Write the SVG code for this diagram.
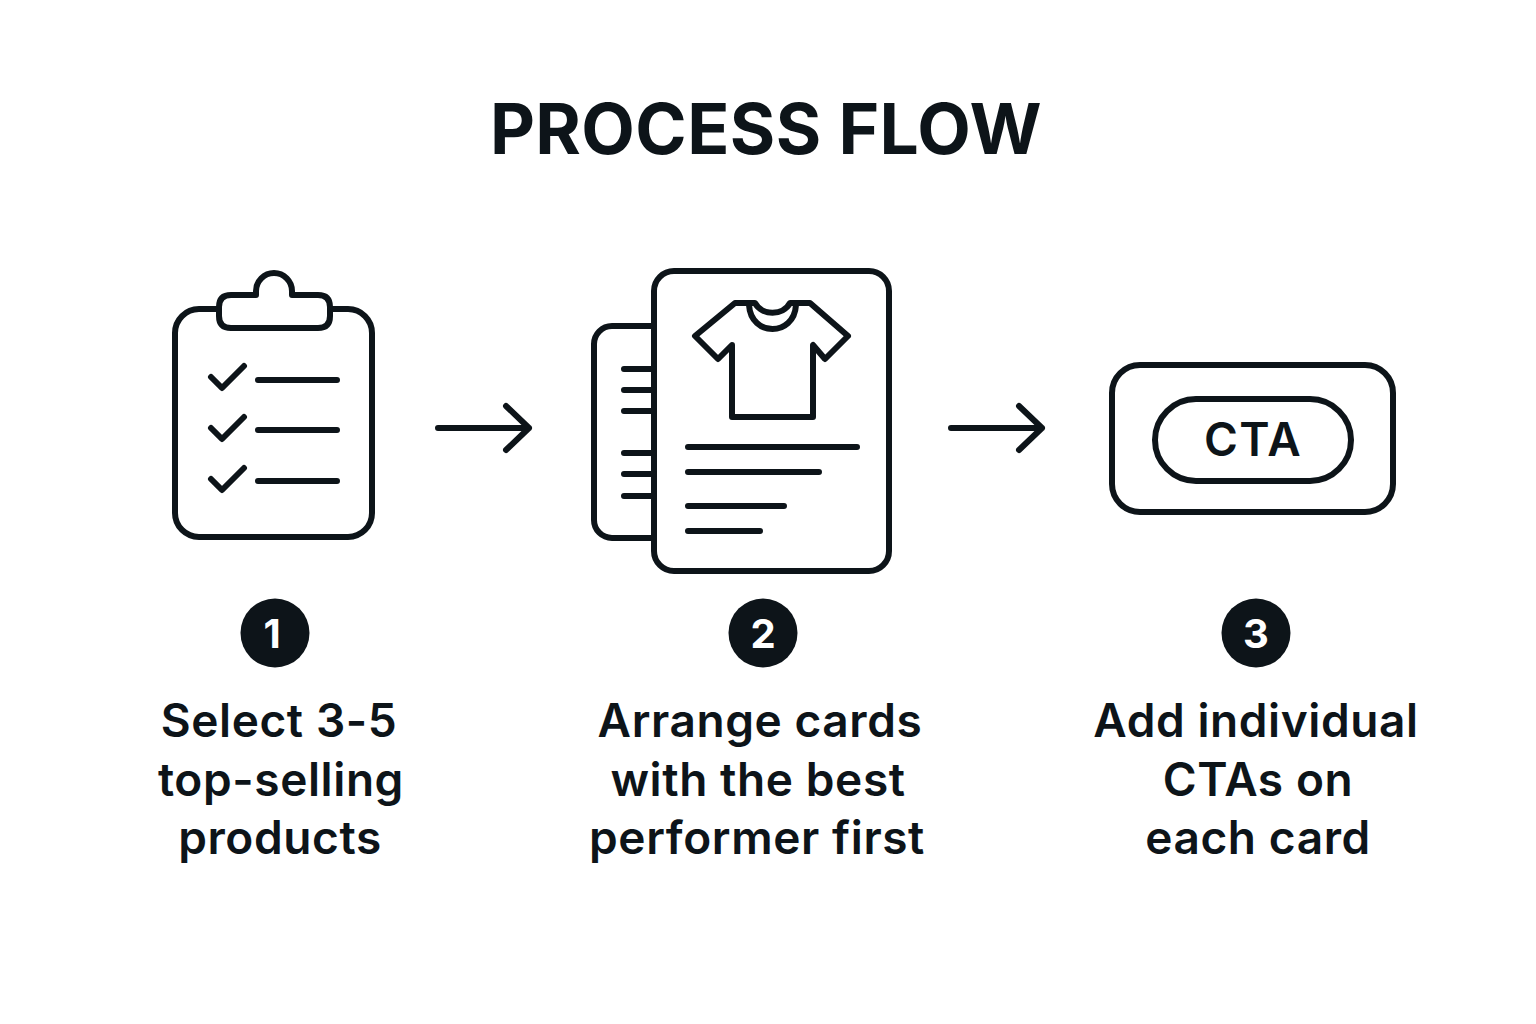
<svg xmlns="http://www.w3.org/2000/svg" width="1536" height="1024" viewBox="0 0 1536 1024">
<style>
.s{fill:none;stroke:#0d1419;stroke-width:6;stroke-linecap:round;stroke-linejoin:round}
.w{fill:#fff;stroke:#0d1419;stroke-width:6;stroke-linejoin:round}
text{font-family:Inter,"Liberation Sans",sans-serif;fill:#0d1419;text-anchor:middle}
.l{font-size:46px;font-weight:600;letter-spacing:.6px}
.n{font-size:40px;font-weight:700;fill:#fff}
</style>
<rect width="1536" height="1024" fill="#fff"/>
<text x="766" y="154" style="font-size:69.5px;font-weight:700;letter-spacing:.4px">PROCESS FLOW</text>
<g id="connectors" class="s"><path d="M438 428H529M506 406L529 428L506 450"/><path d="M951 428H1042M1019 406L1042 428L1019 450"/></g>
<g id="node1"><rect class="s" x="175" y="309" width="197" height="228" rx="24"/>
<path class="w" d="M219 307Q219 295 231 295H256V291A18 18 0 0 1 292 291V295H318Q330 295 330 307V316Q330 328 318 328H231Q219 328 219 316Z"/>
<path class="s" d="M211 377L222 388L244 366M258 380H337M211 428L222 439L244 417M258 430H337M211 479L222 490L244 468M258 481H337"/>
<circle cx="275" cy="633" r="34.500" fill="#0d1419"/><text class="n" x="272" y="648">1</text>
<text class="l" x="279" y="737">Select 3-5</text><text class="l" x="281" y="796">top-selling</text><text class="l" x="280" y="854">products</text></g>
<g id="node2"><rect class="s" x="594" y="326" width="100" height="212" rx="18"/><rect class="w" x="654" y="271" width="235" height="300" rx="20"/>
<path class="s" d="M624 369H654M624 390H654M624 411H654M624 453H654M624 474H654M624 496H654"/>
<path class="s" d="M735 303H755C762 316 783 316 790 303H810L848 336L825 359L813 345V417H732V345L718 359L695 336ZM749 305C751 337 794 337 796 305"/>
<path class="s" d="M688 447H857M688 472H819M688 506H784M688 531H760"/>
<circle cx="763" cy="633" r="34.500" fill="#0d1419"/><text class="n" x="763" y="648">2</text>
<text class="l" x="760" y="737">Arrange cards</text><text class="l" x="758" y="796">with the best</text><text class="l" x="757" y="854">performer first</text></g>
<g id="node3"><rect class="s" x="1112" y="365" width="281" height="147" rx="28"/><rect class="s" x="1155" y="399" width="196" height="82" rx="41"/>
<text x="1253" y="456" style="font-size:46px;font-weight:600;letter-spacing:1.5px">CTA</text>
<circle cx="1256" cy="633" r="34.500" fill="#0d1419"/><text class="n" x="1256" y="648">3</text>
<text class="l" x="1256" y="737">Add individual</text><text class="l" x="1258" y="796">CTAs on</text><text class="l" x="1258" y="854">each card</text></g>
</svg>
